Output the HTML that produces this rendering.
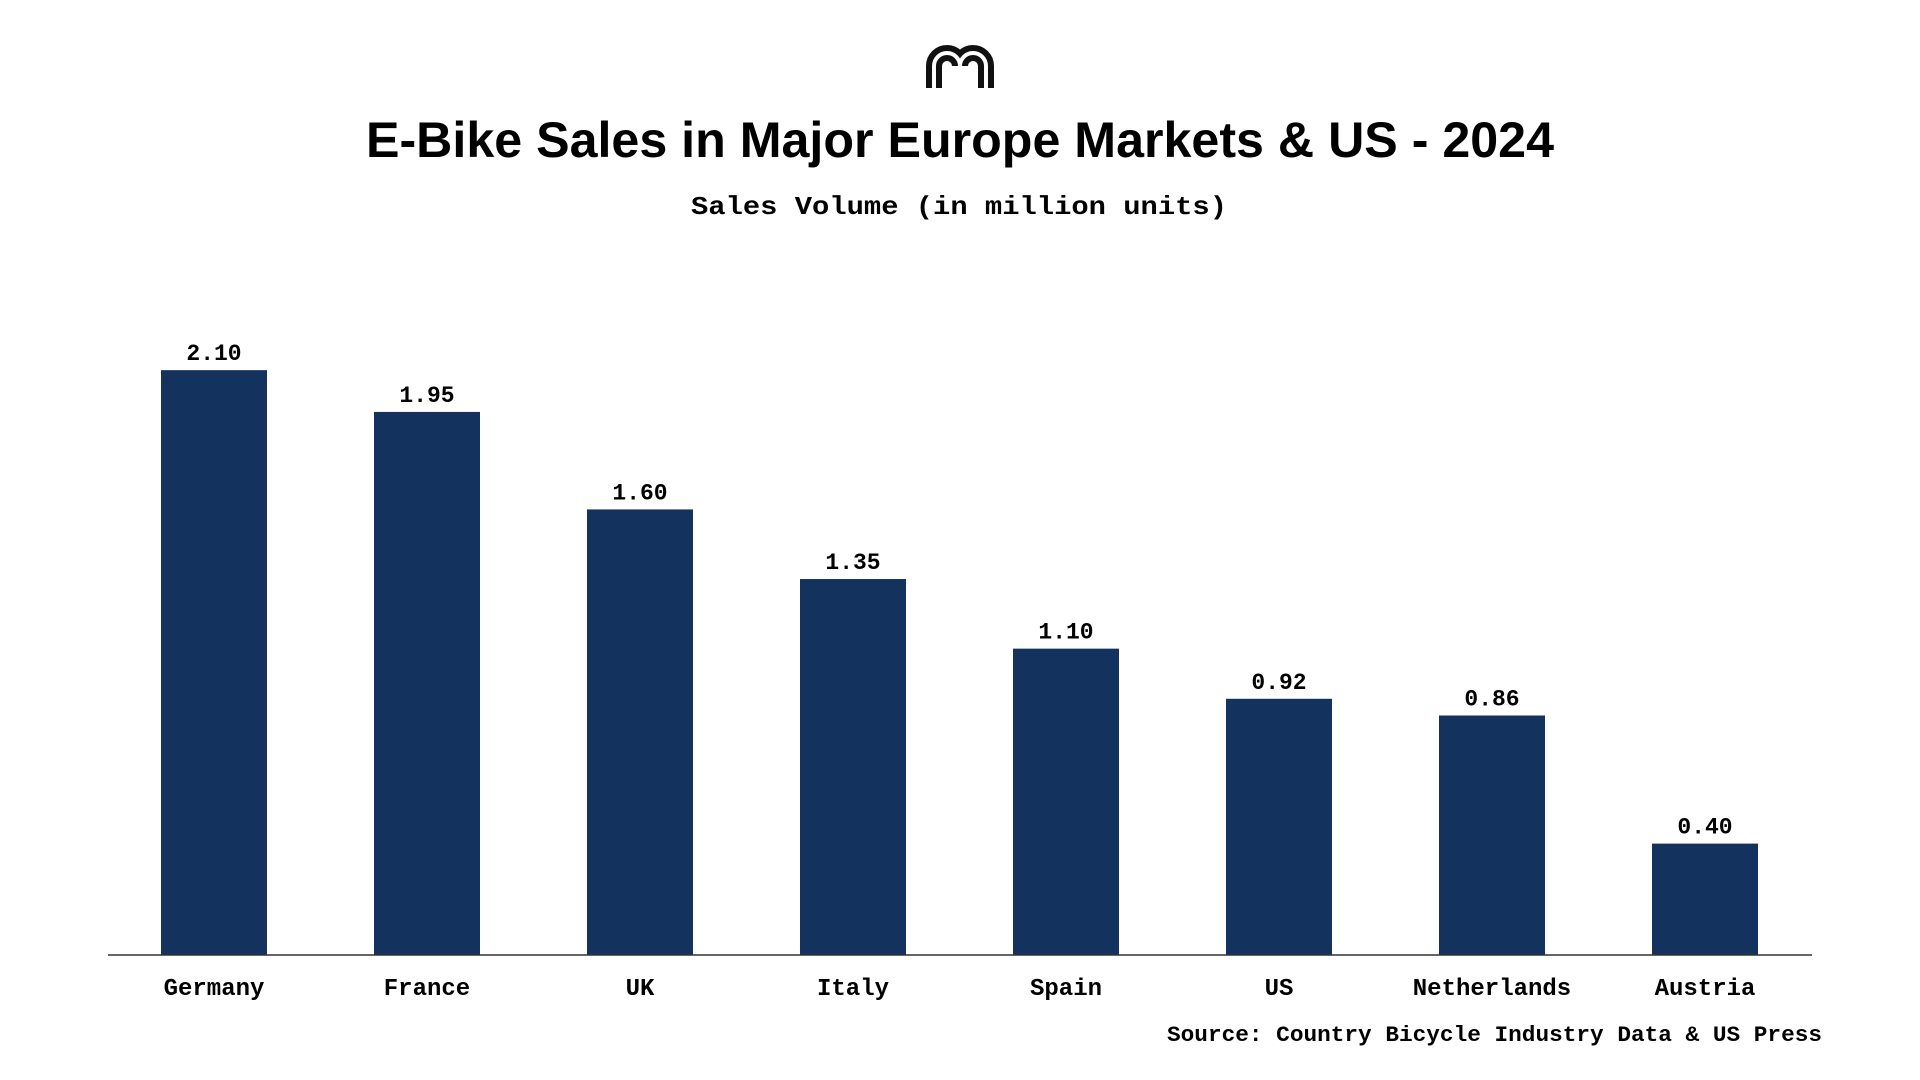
<!DOCTYPE html>
<html><head><meta charset="utf-8"><style>
html,body{margin:0;padding:0;background:#fff;width:1920px;height:1080px;overflow:hidden}
svg{display:block}
.mono{font-family:"Liberation Mono",monospace;font-weight:bold;fill:#000}
</style></head><body>
<svg id="chart" width="1920" height="1080" xmlns="http://www.w3.org/2000/svg">
<g fill="none">
<path d="M934 88 V66 A13 13 0 0 1 960 66 A13 13 0 0 1 986 66 V88" stroke="#111" stroke-width="16"/>
<path d="M934 90 V66 A13 13 0 0 1 960 66 A13 13 0 0 1 986 66 V90" stroke="#fff" stroke-width="4"/>
<line x1="960" y1="66" x2="960" y2="90" stroke="#fff" stroke-width="4"/>
</g>
<text x="960" y="157" text-anchor="middle" textLength="1188" lengthAdjust="spacingAndGlyphs" font-family="Liberation Sans,sans-serif" font-weight="bold" font-size="50" fill="#000">E-Bike Sales in Major Europe Markets &amp; US - 2024</text>
<text class="mono" x="959" y="214" text-anchor="middle" textLength="536" lengthAdjust="spacingAndGlyphs" font-size="26">Sales Volume (in million units)</text>
<g id="bars"></g>
<line x1="108" y1="955" x2="1812" y2="955" stroke="#333" stroke-width="1.5"/>
<text class="mono" x="1822" y="1041" text-anchor="end" textLength="655" lengthAdjust="spacingAndGlyphs" font-size="22">Source: Country Bicycle Industry Data &amp; US Press</text>
</svg>
<script>
const categories = ["Germany","France","UK","Italy","Spain","US","Netherlands","Austria"];
const values = [2.10,1.95,1.60,1.35,1.10,0.92,0.86,0.40];
const valueLabels = ["2.10","1.95","1.60","1.35","1.10","0.92","0.86","0.40"];
const NS="http://www.w3.org/2000/svg";
const x0=214, step=213, barW=106, baseY=955, pxPerUnit=278.5;
function xScale(i){return x0+i*step;}
function yScale(v){return baseY-v*pxPerUnit;}
const g=document.getElementById('bars');
categories.forEach((c,i)=>{
  const cx=xScale(i), top=yScale(values[i]);
  const r=document.createElementNS(NS,'rect');
  r.setAttribute('x',cx-barW/2);r.setAttribute('y',top);
  r.setAttribute('width',barW);r.setAttribute('height',baseY-top);
  r.setAttribute('fill','#14325e');
  
  
  g.appendChild(r);
  const t=document.createElementNS(NS,'text');
  t.setAttribute('x',cx);t.setAttribute('y',top-10);
  t.setAttribute('text-anchor','middle');t.setAttribute('class','mono');
  t.setAttribute('font-size','23');
  t.textContent=valueLabels[i];
  
  
  g.appendChild(t);
  const l=document.createElementNS(NS,'text');
  l.setAttribute('x',cx);l.setAttribute('y',995);
  l.setAttribute('text-anchor','middle');l.setAttribute('class','mono');
  l.setAttribute('font-size','24');
  l.textContent=c;
  
  
  g.appendChild(l);
});
</script>
</body></html>
